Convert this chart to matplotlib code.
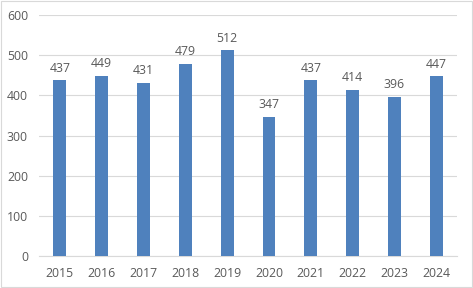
import matplotlib.pyplot as plt
from matplotlib.patches import Rectangle

years = ['2015', '2016', '2017', '2018', '2019', '2020', '2021', '2022', '2023', '2024']
values = [437, 449, 431, 479, 512, 347, 437, 414, 396, 447]
y_ticks = [0, 100, 200, 300, 400, 500, 600]

plt.rcParams['font.family'] = ['Open Sans', 'DejaVu Sans']
text_color = '#595959'
bar_color = '#4f81bd'

fig = plt.figure(figsize=(4.73, 2.88), dpi=100)
ax = fig.add_axes([0.0825, 0.111, 0.884, 0.837])

x = list(range(len(years)))
bars = ax.bar(x, values, width=0.31, color=bar_color, zorder=3)
for xi, v in zip(x, values):
    ax.text(xi, v + 14, str(v), ha='center', va='bottom', fontsize=8.8, color=text_color)

ax.set_xlim(-0.5, len(years) - 0.5)
ax.set_ylim(0, 600)
ax.set_yticks(y_ticks)
ax.set_xticks(x)
ax.set_xticklabels(years)
ax.tick_params(axis='both', length=0, labelsize=8.8, colors=text_color)
ax.tick_params(axis='x', pad=8)
ax.tick_params(axis='y', pad=8)
ax.grid(axis='y', color='#d9d9d9', linewidth=0.8, zorder=0)
for s in ['top', 'right', 'left']:
    ax.spines[s].set_visible(False)
ax.spines['bottom'].set_color('#d9d9d9')
ax.spines['bottom'].set_linewidth(0.8)

fig.patches.append(Rectangle((0.002, 0.003), 0.995, 0.994, transform=fig.transFigure,
                             fill=False, edgecolor='#d9d9d9', linewidth=0.8))

fig.savefig('out.png', dpi=100)
